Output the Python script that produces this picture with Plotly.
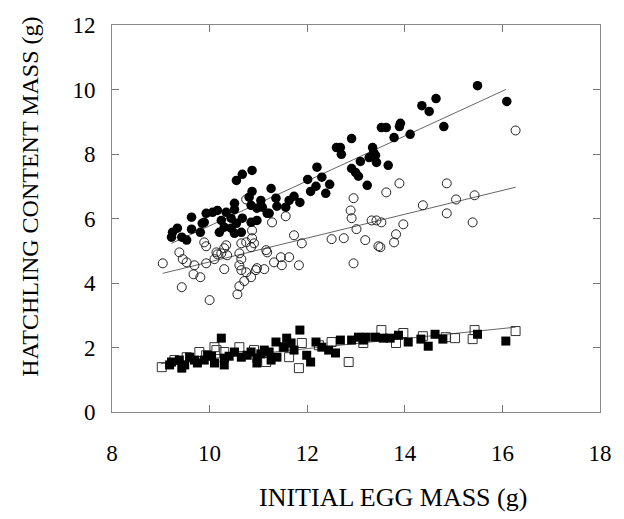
import plotly.graph_objects as go

# Filled circles
fc_x = [15.49, 16.09, 14.64, 14.35, 14.50, 13.91, 13.89, 13.52, 13.62, 14.11, 13.78, 14.80, 12.91, 12.60, 12.68,
        12.70, 13.34, 13.36, 13.27, 13.40, 13.09, 13.42, 13.66, 12.91, 12.99, 13.05, 13.23, 12.20, 12.30, 12.46,
        12.18, 12.07, 12.38, 12.01, 10.87, 10.67, 10.55, 11.26, 11.36, 11.38, 11.63, 11.73, 11.85, 11.56, 11.22,
        10.87, 10.81, 11.05, 10.97, 10.85, 10.51, 10.51, 10.34, 10.16, 10.06, 9.93, 9.63, 9.89, 10.44, 10.24,
        10.30, 10.55, 10.65, 10.51, 10.44, 10.20, 9.81, 9.63, 9.34, 9.24, 9.22, 9.43, 9.53, 11.18, 10.97,
        10.85, 10.67, 9.85, 11.08]
fc_y = [10.12, 9.63, 9.72, 9.50, 9.32, 8.95, 8.85, 8.82, 8.82, 8.61, 8.51, 8.85, 8.48, 8.20, 8.20,
        7.99, 8.20, 8.05, 7.89, 7.96, 7.77, 7.74, 7.65, 7.55, 7.43, 7.31, 7.03, 7.59, 7.28, 7.06,
        7.00, 6.84, 6.78, 7.21, 7.49, 7.37, 7.18, 6.93, 6.63, 6.38, 6.56, 6.69, 6.50, 6.35, 6.16,
        6.84, 6.66, 6.56, 6.32, 6.41, 6.47, 6.28, 6.19, 6.25, 6.19, 6.16, 6.04, 5.88, 6.01, 5.94,
        5.73, 5.85, 5.57, 5.54, 5.70, 5.57, 5.57, 5.67, 5.70, 5.57, 5.42, 5.42, 5.33, 6.16, 5.94,
        5.88, 6.01, 5.85, 6.35]

# Open circles
oc_x = [13.89, 14.86, 13.62, 14.37, 15.05, 15.43, 14.86, 15.39, 13.97, 13.52, 13.82, 13.78, 13.50, 16.27,
        12.95, 12.89, 12.91, 13.32, 13.42, 13.01, 12.95, 13.19, 13.46, 12.50, 12.75, 11.89, 11.73, 11.56,
        11.28, 10.75, 11.16, 10.87, 10.91, 10.75, 10.65, 10.34, 10.30, 10.14, 10.24, 9.89, 9.93, 9.38,
        9.45, 9.53, 9.04, 9.69, 9.93, 10.10, 10.61, 10.61, 10.97, 11.46, 11.63, 11.48, 11.32, 11.83,
        9.67, 9.81, 9.43, 10.00, 10.30, 10.65, 10.65, 10.75, 10.95, 11.12, 10.85, 10.71, 10.61, 10.57,
        11.18, 10.16, 10.36, 10.87, 10.85]
oc_y = [7.09, 7.09, 6.81, 6.41, 6.59, 6.72, 6.16, 5.88, 5.82, 5.88, 5.51, 5.26, 5.11, 8.73,
        6.63, 6.25, 6.01, 5.94, 5.94, 5.67, 4.61, 5.33, 5.14, 5.36, 5.39, 5.23, 5.48, 6.07,
        5.88, 6.59, 5.02, 5.39, 5.23, 5.26, 5.23, 5.17, 5.08, 4.95, 4.92, 5.26, 5.14, 4.95,
        4.74, 4.64, 4.61, 4.55, 4.61, 4.74, 4.92, 4.55, 4.46, 4.80, 4.80, 4.55, 4.64, 4.55,
        4.27, 4.18, 3.87, 3.47, 4.43, 4.74, 4.40, 4.33, 4.40, 4.43, 4.18, 4.06, 3.90, 3.65,
        4.95, 4.89, 4.86, 5.63, 5.11]

# Filled squares
fs_x = [9.18, 9.22, 9.43, 9.49, 9.59, 9.75, 9.89, 9.96, 10.10, 10.24, 10.30, 10.30, 10.51, 10.65, 10.85,
        10.97, 10.97, 11.12, 11.26, 11.38, 11.36, 11.52, 11.58, 11.67, 11.85, 11.99, 12.07, 12.18, 12.30,
        12.44, 12.58, 12.68, 12.91, 13.05, 13.21, 13.40, 13.56, 13.70, 13.87, 14.07, 14.33, 14.48, 14.62,
        14.78, 15.49, 16.07, 9.69, 10.04, 10.40, 10.77, 11.05, 11.22, 11.73, 13.15, 9.38]
fs_y = [1.46, 1.55, 1.36, 1.46, 1.70, 1.52, 1.61, 1.76, 1.52, 2.29, 1.67, 1.46, 1.86, 1.70, 1.86,
        1.67, 1.52, 1.92, 1.61, 1.70, 2.17, 2.01, 2.29, 2.14, 2.54, 1.76, 1.55, 2.17, 2.01,
        1.92, 1.83, 2.23, 2.23, 2.32, 2.32, 2.32, 2.29, 2.29, 2.38, 2.17, 2.26, 2.04, 2.41,
        2.26, 2.41, 2.20, 1.61, 1.73, 1.73, 1.76, 1.80, 1.86, 1.92, 2.23, 1.61]

# Open squares
os_x = [9.02, 9.53, 9.79, 10.10, 10.14, 10.30, 10.61, 11.16, 11.52, 11.63, 11.83, 11.89, 12.50, 12.85,
        13.15, 13.52, 13.82, 13.97, 14.37, 14.84, 15.03, 15.39, 15.43, 16.27, 9.28, 9.93, 10.91, 12.24]
os_y = [1.39, 1.70, 1.86, 2.01, 1.92, 1.86, 2.01, 1.55, 2.01, 1.70, 1.36, 2.14, 2.17, 1.55,
        2.14, 2.54, 2.14, 2.45, 2.35, 2.32, 2.29, 2.26, 2.54, 2.51, 1.61, 1.76, 1.92, 2.07]

# Regression line endpoints
fit_fc_x = [9.22, 16.07]
fit_fc_y = [5.23, 10.00]
fit_oc_x = [9.04, 16.27]
fit_oc_y = [4.30, 6.97]
fit_sq_x = [9.00, 16.27]
fit_sq_y = [1.50, 2.63]

x_ticks = [8, 10, 12, 14, 16, 18]
y_ticks = [0, 2, 4, 6, 8, 10, 12]

FONT = "Liberation Serif, Times New Roman, serif"
LINE_C = "#666666"

fig = go.Figure()
for fx, fy in [(fit_fc_x, fit_fc_y), (fit_oc_x, fit_oc_y), (fit_sq_x, fit_sq_y)]:
    fig.add_trace(go.Scatter(x=fx, y=fy, mode="lines",
                             line=dict(color=LINE_C, width=1), showlegend=False, hoverinfo="skip"))

fig.add_trace(go.Scatter(x=os_x, y=os_y, mode="markers",
                         marker=dict(symbol="square-open", size=9, color="#333333", line=dict(width=1)),
                         showlegend=False))
fig.add_trace(go.Scatter(x=fs_x, y=fs_y, mode="markers",
                         marker=dict(symbol="square", size=9, color="black"), showlegend=False))
fig.add_trace(go.Scatter(x=oc_x, y=oc_y, mode="markers",
                         marker=dict(symbol="circle-open", size=9, color="#222222", line=dict(width=1)),
                         showlegend=False))
fig.add_trace(go.Scatter(x=fc_x, y=fc_y, mode="markers",
                         marker=dict(symbol="circle", size=9.5, color="black"), showlegend=False))

axis_common = dict(showgrid=False, zeroline=False, showline=True, linecolor="#888888", linewidth=1,
                   mirror="ticks", ticks="inside", ticklen=7, tickcolor="#777777", tickwidth=1,
                   tickfont=dict(family=FONT, size=23, color="black"))

fig.update_xaxes(range=[8, 18], tickvals=x_ticks, ticktext=[str(v) for v in x_ticks],
                 ticklabelstandoff=20, **axis_common)
fig.update_yaxes(range=[0, 12], tickvals=y_ticks, ticktext=[str(v) for v in y_ticks],
                 ticklabelstandoff=11, **axis_common)

fig.add_annotation(text="INITIAL EGG MASS (g)", xref="paper", yref="paper", x=0.575, y=-0.22,
                   xanchor="center", yanchor="middle", showarrow=False,
                   font=dict(family=FONT, size=26, color="black"))
fig.add_annotation(text="HATCHLING CONTENT MASS (g)", xref="paper", yref="paper", x=-0.167, y=0.555,
                   xanchor="center", yanchor="middle", textangle=-90, showarrow=False,
                   font=dict(family=FONT, size=24, color="black"))

fig.update_layout(width=624, height=519, margin=dict(l=112, r=21, t=25, b=107),
                  plot_bgcolor="white", paper_bgcolor="white")

fig.write_html("out.html", config={"displayModeBar": False},
               post_script="document.body.style.margin='0';document.body.style.overflow='hidden';")
